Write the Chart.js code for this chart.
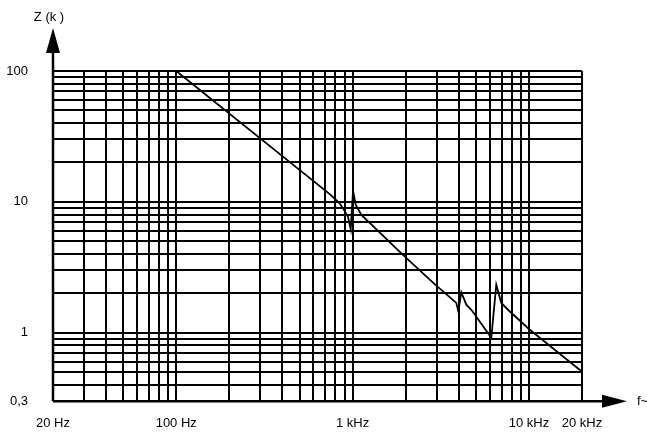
<!DOCTYPE html>
<html>
<head>
<meta charset="utf-8">
<script src="https://cdn.jsdelivr.net/npm/chart.js@4"></script>
<style>
    html, body { margin: 0; padding: 0; background: #fff; }
    #wrap { width: 647px; height: 434px; }
</style>
</head>
<body>
<div id="wrap"><canvas id="impedanceChart"></canvas></div>
<script>
    // Impedance curve (Hz, kOhm)
    const freqHz = [100, 742, 845, 883, 942, 976, 1006, 1042, 1122, 1930, 2920, 3876, 3978, 4136, 4416, 4750, 6118, 6530, 6970, 7766, 10080, 19870];
    const impedanceK = [100, 11.47, 9.74, 8.92, 7.7, 6.18, 12.15, 9.46, 7.94, 3.94, 2.35, 1.69, 1.46, 2.04, 1.64, 1.48, 0.916, 2.33, 1.69, 1.46, 1.06, 0.507];

    // grid lines and labels
    const freqTicks = [20, 30, 40, 50, 60, 70, 80, 90, 100, 200, 300, 400, 500, 600, 700, 800, 900, 1000,
        2000, 3000, 4000, 5000, 6000, 7000, 8000, 9000, 10000, 20000];
    const freqLabels = { 20: "20 Hz", 100: "100 Hz", 1000: "1 kHz", 10000: "10 kHz", 20000: "20 kHz" };
    const zTicks = [0.3, 0.4, 0.5, 0.6, 0.7, 0.8, 0.9, 1, 2, 3, 4, 5, 6, 7, 8, 9, 10,
        20, 30, 40, 50, 60, 70, 80, 90, 100];
    const zLabels = { 0.3: "0,3", 1: "1", 10: "10", 100: "100" };

    const font = { family: "'Liberation Sans', Arial, sans-serif", size: 13 };

    // arrows on both axes plus the axis names
    const axisArrows = {
        id: "axisArrows",
        afterDraw(chart) {
            const { ctx, chartArea: a } = chart;
            const x0 = chart.scales.x.getPixelForValue(20);
            const y0 = chart.scales.y.getPixelForValue(0.3);
            ctx.save();
            ctx.strokeStyle = "#000";
            ctx.fillStyle = "#000";
            ctx.lineWidth = 2.5;

            ctx.beginPath();
            ctx.moveTo(x0, y0);
            ctx.lineTo(x0, a.top - 20);
            ctx.stroke();
            ctx.beginPath();
            ctx.moveTo(x0, a.top - 43);
            ctx.lineTo(x0 - 7, a.top - 18);
            ctx.lineTo(x0 + 7, a.top - 18);
            ctx.closePath();
            ctx.fill();

            ctx.beginPath();
            ctx.moveTo(x0, y0);
            ctx.lineTo(a.right + 22, y0);
            ctx.stroke();
            ctx.beginPath();
            ctx.moveTo(a.right + 45, y0);
            ctx.lineTo(a.right + 20, y0 - 6.5);
            ctx.lineTo(a.right + 20, y0 + 6.5);
            ctx.closePath();
            ctx.fill();

            ctx.font = "13px " + font.family;
            ctx.textBaseline = "middle";
            ctx.textAlign = "center";
            ctx.fillText("Z (k )", 49, 17);
            ctx.textAlign = "left";
            ctx.fillText("f~", a.right + 55, y0);
            ctx.restore();
        }
    };

    new Chart(document.getElementById("impedanceChart"), {
        type: "line",
        data: {
            datasets: [{
                label: "Z",
                data: freqHz.map((f, i) => ({ x: f, y: impedanceK[i] })),
                borderColor: "#000",
                borderWidth: 1.8,
                pointRadius: 0,
                tension: 0,
                fill: false,
            }],
        },
        options: {
            responsive: true,
            maintainAspectRatio: false,
            animation: false,
            layout: { padding: { top: 71, right: 65, left: 0, bottom: 0 } },
            plugins: { legend: { display: false }, tooltip: { enabled: false } },
            scales: {
                x: {
                    type: "logarithmic",
                    min: 20,
                    max: 20000,
                    afterBuildTicks: (s) => { s.ticks = freqTicks.map(v => ({ value: v })); },
                    afterFit: (s) => { s.height = 31; },
                    grid: { color: "#000", lineWidth: 2, drawTicks: false },
                    border: { display: false },
                    ticks: {
                        autoSkip: false, maxRotation: 0, padding: 14, color: "#000", font,
                        callback: (v) => freqLabels[v] || "",
                    },
                },
                y: {
                    type: "logarithmic",
                    min: 0.3,
                    max: 100,
                    afterBuildTicks: (s) => { s.ticks = zTicks.map(v => ({ value: v })); },
                    afterFit: (s) => { s.width = 53; },
                    grid: { color: "#000", lineWidth: 2, drawTicks: false },
                    border: { display: false },
                    ticks: {
                        autoSkip: false, padding: 25, color: "#000", font,
                        callback: (v) => zLabels[v] || "",
                    },
                },
            },
        },
        plugins: [axisArrows],
    });
</script>
</body>
</html>
